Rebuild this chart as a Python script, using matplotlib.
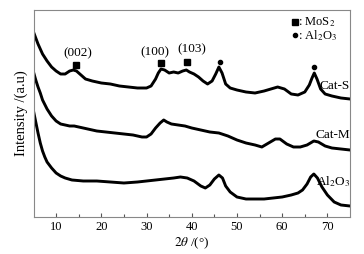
import matplotlib
matplotlib.use("Agg")
import matplotlib.pyplot as plt
import numpy as np

# --- données (2theta, intensité en u.a.) ---
two_theta_s = [5.0, 6.0, 7.0, 8.0, 9.0, 10.0, 11.0, 12.0, 13.0, 13.8, 14.5, 15.5, 16.5,
               18.0, 20.0, 22.0, 24.0, 26.0, 28.0, 30.0, 31.0, 32.0, 32.6, 33.2, 34.0,
               35.0, 36.0, 37.0, 38.0, 38.8, 39.5, 40.5, 41.5, 42.5, 43.5, 44.5, 45.3,
               46.0, 46.7, 47.5, 48.5, 50.0, 52.0, 54.0, 56.0, 57.5, 59.0, 60.5, 62.0,
               63.5, 65.0, 66.0, 66.6, 67.1, 67.7, 68.5, 69.5, 71.0, 73.0, 75.0]
cat_s = [185, 173, 163, 156, 150, 146, 143, 143, 146, 147, 146, 142, 138,
         136, 134, 133, 131, 130, 129, 129, 131, 138, 144, 148, 147,
         144, 145, 144, 146, 147, 145, 143, 140, 136, 133, 136, 143,
         150, 144, 133, 129, 127, 125, 124, 126, 128, 130, 128, 123,
         122, 125, 132, 139, 144, 138, 128, 123, 121, 119, 118]

two_theta_m = [5.0, 5.5, 6.0, 6.5, 7.0, 8.0, 9.0, 10.0, 11.0, 12.0, 13.0, 14.0, 15.0,
               17.0, 19.0, 21.0, 23.0, 25.0, 27.0, 29.0, 30.0, 31.0, 32.0, 33.0, 33.8,
               34.5, 35.5, 37.0, 38.5, 40.0, 42.0, 44.0, 46.0, 48.0, 50.0, 52.0, 54.0,
               55.5, 57.0, 58.5, 59.5, 61.0, 62.5, 64.0, 65.5, 67.0, 68.0, 69.5, 71.0,
               73.0, 75.0]
cat_m = [145, 137, 130, 124, 117, 108, 101, 96, 93, 92, 91, 91, 90,
         88, 86, 85, 84, 83, 82, 80, 80, 83, 89, 94, 97,
         95, 93, 92, 91, 89, 87, 85, 84, 81, 77, 74, 72,
         70, 74, 78, 78, 73, 70, 70, 72, 76, 75, 71, 69,
         68, 67]

two_theta_a = [5.0, 5.5, 6.0, 6.5, 7.0, 7.5, 8.0, 9.0, 10.0, 11.0, 12.0, 13.5, 16.0,
               19.0, 22.0, 25.0, 28.0, 30.0, 32.0, 34.0, 36.0, 37.5, 39.0, 40.5, 42.0,
               43.0, 44.0, 45.0, 46.0, 46.8, 47.5, 48.5, 50.0, 52.0, 54.0, 56.0, 58.0,
               60.0, 62.0, 63.5, 64.5, 65.5, 66.3, 67.0, 67.8, 68.8, 70.0, 71.5, 73.0,
               75.0]
al2o3 = [106, 95, 84, 74, 66, 60, 55, 49, 44, 41, 39, 37, 36,
         36, 35, 34, 35, 36, 37, 38, 39, 40, 39, 36, 31,
         29, 32, 38, 42, 39, 31, 25, 20, 18, 18, 18, 19,
         20, 22, 24, 27, 33, 40, 43, 39, 30, 22, 15, 12,
         11]

hkl_labels = ["(002)", "(100)", "(103)"]
hkl_pos = [14.4, 33.1, 38.9]
hkl_marker_y = [152, 154, 155]
hkl_text_x = [14.7, 31.8, 40.0]
hkl_text_y = [164, 165, 168]

al_peaks = [46.2, 67.1]
al_marker_y = [155, 150]

plt.rcParams['font.family'] = ['Liberation Serif', 'DejaVu Serif']
plt.rcParams['mathtext.fontset'] = 'stix'

fig = plt.figure(figsize=(3.64, 2.54), dpi=100)
ax = fig.add_axes([33.5 / 364, 37 / 254, 316.5 / 364, 207.5 / 254])

for x, y in [(two_theta_s, cat_s), (two_theta_m, cat_m), (two_theta_a, al2o3)]:
    ax.plot(x, y, color='black', lw=2.1, solid_joinstyle='round')

# pics MoS2
ax.plot(hkl_pos, hkl_marker_y, 's', color='black', ms=3.8)
for lab, tx, ty in zip(hkl_labels, hkl_text_x, hkl_text_y):
    ax.text(tx, ty, lab, ha='center', va='center', fontsize=9.5)
# pics Al2O3
ax.plot(al_peaks, al_marker_y, 'o', color='black', ms=3)

# légende manuelle
ax.plot([62.9], [195], 's', color='black', ms=3.8)
ax.text(63.4, 195, ": MoS$_2$", ha='left', va='center', fontsize=9)
ax.plot([62.9], [182], 'o', color='black', ms=3)
ax.text(63.4, 181, ": Al$_2$O$_3$", ha='left', va='center', fontsize=9)

# noms des courbes
ax.text(75, 131, "Cat-S", ha='right', va='center', fontsize=9.5)
ax.text(75, 82, "Cat-M", ha='right', va='center', fontsize=9.5)
ax.text(75, 35, "Al$_2$O$_3$", ha='right', va='center', fontsize=9.5)

ax.set_xlim(5, 75)
ax.set_ylim(0, 207.5)
ax.set_xticks([10, 20, 30, 40, 50, 60, 70])
ax.set_xticks(np.arange(15, 75, 10), minor=True)
ax.set_yticks([])
ax.tick_params(axis='x', which='major', direction='in', length=3, width=0.8,
               labelsize=9, pad=3, color='#555555')
ax.tick_params(axis='x', which='minor', direction='in', length=2, width=0.8,
               color='#555555')
for sp in ax.spines.values():
    sp.set_color('#888888')
    sp.set_linewidth(0.8)

ax.set_xlabel(r"$\mathit{2\theta}$ /(°)", fontsize=9.5, labelpad=2)
ax.set_ylabel("Intensity /(a.u)", fontsize=10.5, labelpad=4)

fig.savefig("out.png", dpi=100)
